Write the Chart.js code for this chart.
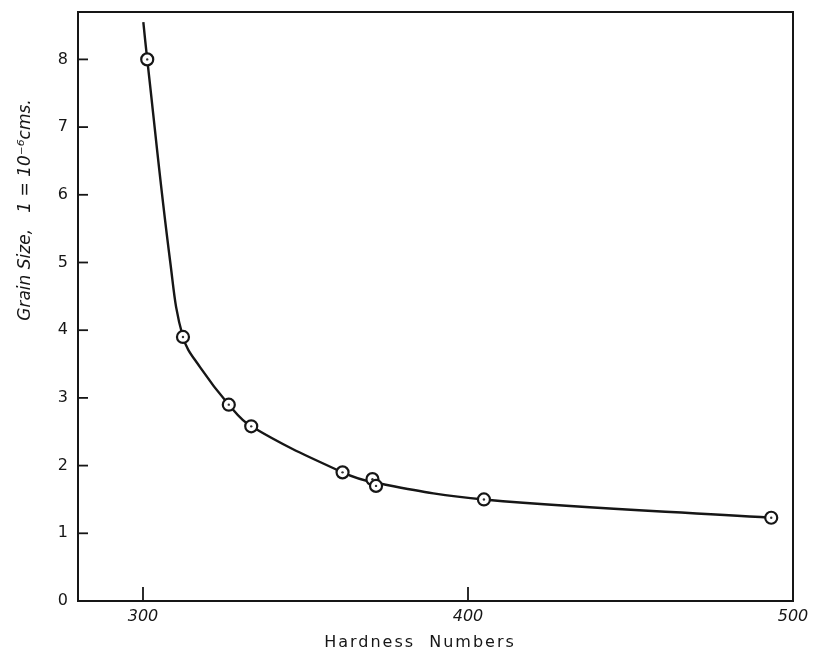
<!DOCTYPE html>
<html>
<head>
<meta charset="utf-8">
<script src="https://cdn.jsdelivr.net/npm/chart.js@4.4.1/dist/chart.umd.min.js"></script>
<style>
  html, body { margin: 0; padding: 0; background: #fff; }
  #wrap { width: 818px; height: 656px; }
</style>
</head>
<body>
<div id="wrap"><canvas id="grainChart" width="818" height="656"></canvas></div>
<script>
// measured points (hardness number, grain size in 1e-6 cm)
const hardness = [301.3, 312.3, 326.4, 333.3, 361.4, 370.6, 371.7, 404.9, 493.3];
const grainSize = [8.0, 3.9, 2.9, 2.58, 1.9, 1.8, 1.7, 1.5, 1.23];

// the hand drawn curve through them
const curveX = [300.1, 301.3, 308.4, 312.3, 317.6, 326.4, 333.3, 361.4, 371.2, 404.9, 493.3];
const curveY = [8.55, 8.0, 5.0, 3.9, 3.45, 2.9, 2.58, 1.9, 1.75, 1.5, 1.23];

const xTicks = [300, 400, 500];
const yTicks = [0, 1, 2, 3, 4, 5, 6, 7, 8];

const ink = '#161616';

const toPoints = (xs, ys) => xs.map((x, i) => ({ x: x, y: ys[i] }));

// inward tick marks + box + axis titles
const paperPlugin = {
    id: 'paper',
    afterDraw(chart) {
        const ctx = chart.ctx;
        const a = chart.chartArea;
        const xs = chart.scales.x, ys = chart.scales.y;
        ctx.save();
        ctx.strokeStyle = ink;
        ctx.lineWidth = 2;
        ctx.strokeRect(a.left, a.top, a.right - a.left, a.bottom - a.top);

        ctx.lineWidth = 1.8;
        yTicks.forEach(v => {
            if (v === 0) return;
            const py = ys.getPixelForValue(v);
            ctx.beginPath();
            ctx.moveTo(a.left, py);
            ctx.lineTo(a.left + 10, py);
            ctx.stroke();
        });
        xTicks.forEach(v => {
            const px = xs.getPixelForValue(v);
            if (px >= a.right - 2) return;
            ctx.beginPath();
            ctx.moveTo(px, a.bottom);
            ctx.lineTo(px, a.bottom - 14);
            ctx.stroke();
        });

        ctx.fillStyle = ink;
        ctx.textAlign = 'center';
        ctx.textBaseline = 'middle';
        ctx.letterSpacing = '2px';
        ctx.font = '16px "DejaVu Sans"';
        ctx.fillText('Hardness  Numbers', 420, 643);

        ctx.translate(26, 210);
        ctx.rotate(-Math.PI / 2);
        ctx.letterSpacing = '0px';
        ctx.font = 'italic 17px "DejaVu Sans"';
        ctx.fillText('Grain Size,   1 = 10\u207B\u2076cms.', 0, 0);
        ctx.restore();
    }
};

const ctx = document.getElementById('grainChart').getContext('2d');
new Chart(ctx, {
    type: 'scatter',
    data: {
        datasets: [
            {
                label: 'curve',
                data: toPoints(curveX, curveY),
                showLine: true,
                tension: 0.4,
                borderColor: ink,
                borderWidth: 2.4,
                pointRadius: 0,
                order: 3
            },
            {
                label: 'rings',
                data: toPoints(hardness, grainSize),
                pointRadius: 6,
                pointBorderWidth: 2.2,
                pointBorderColor: ink,
                pointBackgroundColor: '#fff',
                order: 2
            },
            {
                label: 'dots',
                data: toPoints(hardness, grainSize),
                pointRadius: 1.2,
                pointBorderWidth: 0,
                pointBackgroundColor: '#333',
                order: 1
            }
        ]
    },
    options: {
        responsive: false,
        animation: false,
        layout: { padding: { left: 0, top: 12, right: 25, bottom: 0 } },
        plugins: {
            legend: { display: false },
            tooltip: { enabled: false }
        },
        scales: {
            x: {
                type: 'linear',
                min: 280,
                max: 500,
                afterBuildTicks: s => { s.ticks = xTicks.map(v => ({ value: v })); },
                afterFit: s => { s.height = 55; s.paddingLeft = 0; s.paddingRight = 0; },
                grid: { display: false, drawTicks: false },
                border: { display: false },
                ticks: {
                    padding: 6,
                    color: ink,
                    font: { family: 'DejaVu Sans', size: 16, style: 'italic' },
                    maxRotation: 0
                }
            },
            y: {
                type: 'linear',
                min: 0,
                max: 8.7,
                afterBuildTicks: s => { s.ticks = yTicks.map(v => ({ value: v })); },
                afterFit: s => { s.width = 78; s.paddingTop = 0; s.paddingBottom = 0; },
                grid: { display: false, drawTicks: false },
                border: { display: false },
                ticks: {
                    padding: 10,
                    color: ink,
                    font: { family: 'DejaVu Sans', size: 16 }
                }
            }
        }
    },
    plugins: [paperPlugin]
});
</script>
</body>
</html>
